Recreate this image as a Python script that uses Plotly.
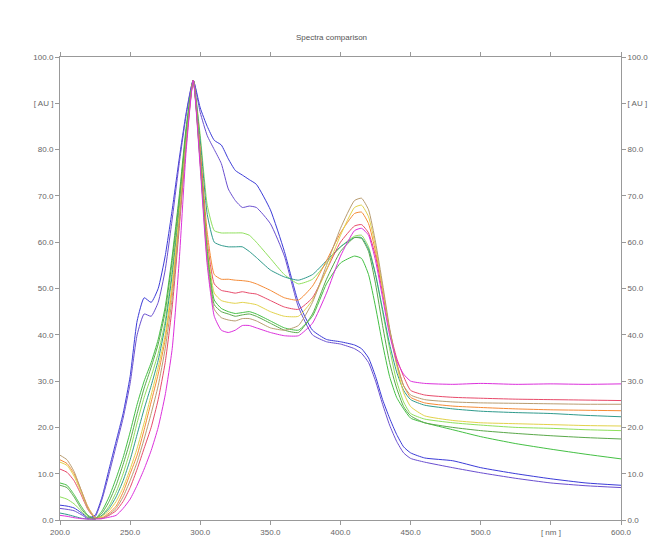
import plotly.graph_objects as go

wavelength = [200, 205, 210, 215, 220, 225, 230, 235, 240, 245, 250, 255, 260, 265, 270, 275, 280, 285, 290, 295,
              300, 305, 310, 315, 320, 325, 330, 335, 340, 350, 360, 370, 380, 390, 400, 410, 415, 420, 425, 430,
              435, 440, 445, 450, 460, 480, 500, 525, 550, 575, 600]

blue_a = [3.2, 3.0, 2.6, 1.6, 0.5, 1.0, 5, 11, 17, 23, 31, 43, 48, 47, 50, 57, 67, 78, 88, 95,
          89, 85, 82, 81, 78, 75.5, 74.5, 73.5, 72.5, 67, 58, 47, 41, 39, 38.5, 37.8, 37, 35, 31, 26,
          22, 18.5, 15.8, 14.5, 13.4, 12.8, 11.3, 10, 8.9, 8, 7.5]
blue_b = [2.5, 2.3, 2.0, 1.2, 0.3, 0.7, 4.5, 10, 16, 22, 29.5, 40, 44.5, 44, 47, 54, 65, 77, 87.5, 95,
          88, 83, 80, 77, 71.5, 69, 67.5, 67.8, 67.5, 64, 57, 46, 40, 38.5, 38, 37, 36, 34, 30, 25,
          20.5, 17, 14.5, 13.3, 12.5, 11.3, 10.2, 9, 8, 7.4, 7.0]
light_green = [5, 4.5, 3.5, 2, 0.5, 0.2, 1, 3, 6, 10, 15, 21, 26.5, 31, 36, 43, 54, 68, 84, 95,
               83, 68, 62.5, 62, 62, 62, 62, 61.5, 60, 56.5, 53, 51, 52, 55.5, 59, 61.3, 61.5, 59, 53, 45,
               37, 30, 25.5, 23, 21.8, 21, 20.5, 20, 19.8, 19.5, 19.3]
teal = [1.5, 1.2, 0.8, 0.4, 0.2, 0.2, 1, 2.5, 5, 8.5, 13, 18.5, 24, 29, 34.5, 42, 53, 67, 83, 95,
        82, 66, 60, 59.3, 59, 59, 59, 58, 56.7, 54, 52.5, 51.8, 53, 56, 59, 61, 61, 58.5, 53, 45.5,
        38, 32, 28, 26, 24.8, 24, 23.5, 23.2, 23, 22.6, 22.3]
orange = [13, 12.2, 10, 6.5, 2.8, 0.6, 0.5, 1.5, 3, 6, 10, 14, 19.5, 25.5, 31.5, 39, 50, 65, 82, 95,
          80, 62, 53, 52, 52, 51.8, 51.7, 51.5, 51, 49.6, 48, 47.5, 50.5, 56, 62, 66.2, 66.5, 64, 58, 50,
          41, 34, 29, 26.5, 25.3, 24.6, 24.3, 24, 23.8, 23.7, 23.6]
red_pink = [11, 10.3, 8.5, 5.5, 2.2, 0.4, 0.3, 1, 2, 4, 7, 11, 15.5, 20, 26, 34, 46, 63, 81, 95,
            79, 60, 51, 49.6, 49.3, 49, 49.3, 49, 48.8, 47.4, 46, 45.5, 48, 54, 60, 63.5, 63.8, 62, 57, 49,
            41, 35, 31, 28, 27, 26.5, 26.3, 26.1, 26, 25.9, 25.8]
yellow = [12.5, 11.8, 9.5, 6, 2.5, 0.5, 0.8, 2, 4, 7, 11, 15.5, 21, 27, 33, 40, 51, 66, 83, 95,
          78, 59, 49, 47.4, 47, 46.8, 47, 46.8, 46.5, 45, 44, 44, 47.5, 54, 61.5, 67.5, 68, 65.5, 59, 50,
          41, 33.5, 27.5, 24.5, 22.5, 21.5, 21, 20.8, 20.6, 20.4, 20.3]
green = [8, 7.5, 5.5, 3, 1, 0.3, 2, 5, 9, 13.5, 19, 25, 30, 34, 39, 46, 57, 70, 85, 95,
         78, 58, 47.5, 45.7, 45, 44.6, 44.8, 45, 44.5, 43, 41.5, 41, 44, 51, 55.5, 57, 56.5, 53, 46, 38,
         31, 26.5, 24, 22, 21, 19.5, 18, 16.5, 15.3, 14.2, 13.2]
dark_green = [7.5, 7, 5, 2.5, 0.8, 0.2, 1.5, 4, 7.5, 12, 17, 23, 28.5, 33, 38, 45, 56, 69, 84, 95,
              77, 57, 46.5, 45, 44.5, 44, 44.3, 44.5, 44, 42.5, 41, 40.5, 44.5, 52, 58, 61, 60.8, 58, 51, 42,
              34, 28.5, 24.5, 22.5, 21, 20, 19.3, 18.7, 18.2, 17.8, 17.5]
tan = [14, 13, 10.5, 6.5, 2.5, 0.5, 0.4, 1.2, 2.5, 5, 8.5, 12.5, 17.5, 23, 29, 37, 48, 64, 82, 95,
       77, 56, 45.5, 43.7, 43.2, 43, 43.5, 43.5, 43, 41.5, 41, 42, 47, 55, 63, 69, 69.5, 67, 60, 51,
       41.5, 34, 29, 27, 26, 25.5, 25.3, 25.2, 25.1, 25, 25]
magenta = [1, 0.8, 0.5, 0.3, 0.2, 0.2, 0.3, 0.6, 1, 2.5, 4.5, 7.5, 11, 15, 20, 27, 37, 56, 80, 95,
           76, 55, 44, 41, 40.5, 41, 42, 42, 41.5, 40.5, 39.8, 39.8, 42.5, 49, 57, 62.5, 63, 61.5, 56, 48,
           40, 34.5, 31.5, 30, 29.5, 29.3, 29.5, 29.3, 29.4, 29.3, 29.4]

series = [
    ("Sample 1", blue_a, "#3b3bd8"),
    ("Sample 2", blue_b, "#6a4fd0"),
    ("Sample 3", light_green, "#8fe05c"),
    ("Sample 4", teal, "#2f9a8c"),
    ("Sample 5", orange, "#f58a35"),
    ("Sample 6", red_pink, "#e84a6a"),
    ("Sample 7", yellow, "#e2d24a"),
    ("Sample 8", green, "#44c044"),
    ("Sample 9", dark_green, "#5aa84a"),
    ("Sample 10", tan, "#b89c70"),
    ("Sample 11", magenta, "#dc30dc"),
]

x_ticks = [200, 250, 300, 350, 400, 450, 500, 550, 600]
x_ticktext = ["200.0", "250.0", "300.0", "350.0", "400.0", "450.0", "500.0", "[ nm ]", "600.0"]
y_ticks = [0, 10, 20, 30, 40, 50, 60, 70, 80, 90, 100]
y_ticktext = ["0.0", "10.0", "20.0", "30.0", "40.0", "50.0", "60.0", "70.0", "80.0", "[ AU ]", "100.0"]

fig = go.Figure()
for i, (name, vals, col) in enumerate(series):
    # the last series is drawn against the right-hand axis (same 0-100 scale) so that axis is rendered
    fig.add_trace(go.Scatter(x=wavelength, y=vals, mode="lines", name=name,
                             yaxis="y2" if i == len(series) - 1 else "y",
                             line=dict(color=col, width=1, shape="spline", smoothing=0.5),
                             hoverinfo="skip"))

axis_font = dict(family="Liberation Sans, Arial, sans-serif", size=8, color="#666")
fig.update_layout(
    width=663, height=549,
    margin=dict(l=60, r=42, t=57, b=29),
    paper_bgcolor="white", plot_bgcolor="white",
    showlegend=False,
    title=dict(text="Spectra comparison", x=0.5, xanchor="center", y=1 - 37 / 549, yanchor="middle",
               yref="container", font=dict(family="Liberation Sans, Arial, sans-serif", size=8, color="#555")),
    xaxis=dict(range=[200, 600], tickvals=x_ticks, ticktext=x_ticktext, showgrid=False, zeroline=False,
               showline=True, linecolor="#999", linewidth=1, ticks="outside", ticklen=4, tickcolor="#999",
               mirror="allticks", tickfont=axis_font),
    yaxis=dict(range=[0, 100], tickvals=y_ticks, ticktext=y_ticktext, showgrid=False, zeroline=False,
               showline=True, linecolor="#999", linewidth=1, ticks="outside", ticklen=4, tickcolor="#999",
               tickfont=axis_font),
    yaxis2=dict(range=[0, 100], tickvals=y_ticks, ticktext=y_ticktext, showgrid=False, zeroline=False,
                overlaying="y", side="right", showline=True, linecolor="#999", linewidth=1,
                ticks="outside", ticklen=4, tickcolor="#999", tickfont=axis_font),
)

fig.write_html("out.html")
